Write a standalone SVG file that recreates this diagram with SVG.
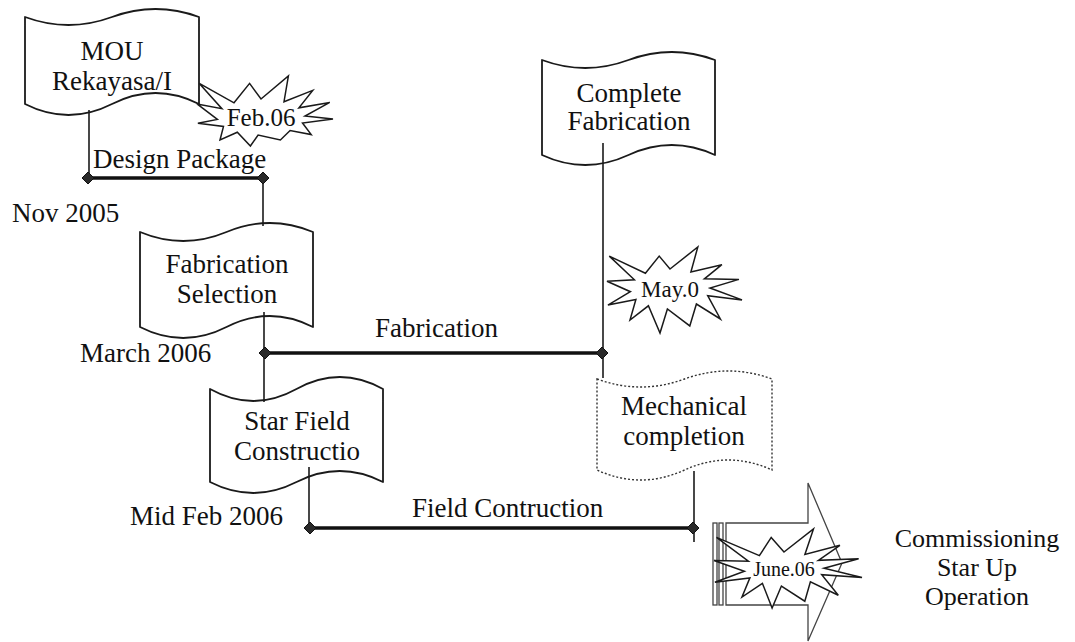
<svg xmlns="http://www.w3.org/2000/svg" width="1075" height="642" viewBox="0 0 1075 642">
<defs>
<style>
.flag{fill:#fff;stroke:#1a1a1a;stroke-width:1.8;stroke-linejoin:round}
.dotted{fill:#fff;stroke:#333;stroke-width:1.4;stroke-dasharray:2 2}
.seal{fill:#fff;stroke:#1a1a1a;stroke-width:1.5;stroke-linejoin:miter}
.arrow{fill:#fff;stroke:#444;stroke-width:1.3}
.t{font-family:"Liberation Serif","Times New Roman",serif;font-size:27px;fill:#111}
.c{text-anchor:middle}
.thin{fill:none;stroke:#1a1a1a;stroke-width:1.6}
.thick{fill:none;stroke:#111;stroke-width:3.5}
</style>
<path id="dia" d="M0,-6 L6,0 L0,6 L-6,0 Z" fill="#2a2a2a" stroke="#111" stroke-width="1"/>
</defs>
<rect width="1075" height="642" fill="#fff"/>

<g id="node-mou">
<path class="flag" d="M25,17 Q68.5,33 112,17 T199,17 L199,104 Q155.5,82 112,104 T25,104 Z"/>
<text class="t c" x="112" y="60">MOU</text>
<text class="t c" x="112" y="90">Rekayasa/I</text>
</g>

<g id="node-fabsel">
<path class="flag" d="M140,232 Q183.25,250 226.5,232 T313,232 L313,327 Q269.75,305 226.5,327 T140,327 Z"/>
<text class="t c" x="227" y="273">Fabrication</text>
<text class="t c" x="227" y="303">Selection</text>
</g>

<g id="node-starfield">
<path class="flag" d="M210,389 Q253.25,413 296.5,389 T383,389 L383,482 Q339.75,460 296.5,482 T210,482 Z"/>
<text class="t c" x="297" y="430">Star Field</text>
<text class="t c" x="297" y="460">Constructio</text>
</g>

<g id="node-complete">
<path class="flag" d="M542,60 Q585.25,76 628.5,60 T715,60 L715,155 Q671.75,135 628.5,155 T542,155 Z"/>
<text class="t c" x="629" y="102">Complete</text>
<text class="t c" x="629" y="130">Fabrication</text>
</g>

<g id="node-mechanical">
<path class="dotted" d="M597,379 Q640.75,395 684.5,379 T772,379 L772,470 Q728.25,450 684.5,470 T597,470 Z"/>
<text class="t c" x="684" y="415">Mechanical</text>
<text class="t c" x="684" y="445">completion</text>
</g>

<g id="connectors">
<path class="thin" d="M89,110 V178"/>
<path class="thick" d="M88,178 H263"/>
<path class="thin" d="M263,178 V226"/>
<path class="thin" d="M264,312 V402"/>
<path class="thick" d="M265,353 H602"/>
<path class="thin" d="M603,143 V378"/>
<path class="thin" d="M309,467 V528"/>
<path class="thick" d="M310,528 H693"/>
<path class="thin" d="M694,471 V542"/>
<use href="#dia" x="88" y="178"/>
<use href="#dia" x="263" y="178"/>
<use href="#dia" x="265" y="353"/>
<use href="#dia" x="602" y="353"/>
<use href="#dia" x="310" y="528"/>
<use href="#dia" x="693" y="528"/>
</g>

<g id="labels">
<text class="t" x="93" y="168">Design Package</text>
<text class="t" x="12" y="222">Nov 2005</text>
<text class="t" x="80" y="362">March 2006</text>
<text class="t" x="375" y="337">Fabrication</text>
<text class="t" x="130" y="525">Mid Feb 2006</text>
<text class="t" x="412" y="517">Field Contruction</text>
</g>

<g id="node-feb06">
<polygon class="seal" points="261,99 288.4,76 284,101.7 312.7,90.4 298.9,107.8 329.8,102.4 305,116.1 333,119.1 302.5,123 311.2,134.6 290.1,130.5 280.4,140 258.1,135 250.4,146 237.3,132.2 220,140 223.5,126.4 197.9,123.3 217.4,119.4 197,103.9 221.9,108.7 199.3,83.4 234,102.8 249.6,83.4"/>
<text class="t c" x="261" y="126" style="font-size:25px">Feb.06</text>
</g>

<g id="node-may0">
<polygon class="seal" points="670,269 697.8,247 690.9,272 721.9,264.7 704.4,278.8 738.9,279.4 710,288 742,299.9 707.7,295.7 720.4,319 696.4,304 689.8,325.9 667.4,309 660,333 648.4,305.8 630,320 635.9,299.4 607.9,305.1 630.4,291.7 607,281.3 634.4,279.8 609.3,256.1 645.4,273.2 659.2,256.1"/>
<text class="t c" x="670" y="297" style="font-size:23px">May.0</text>
</g>

<g id="node-commissioning">
<rect class="arrow" x="713" y="523" width="4" height="82"/>
<rect class="arrow" x="719" y="523" width="4" height="82"/>
<path class="arrow" d="M726,523 H808 V483 L842,563 L808,641 V605 H726 Z"/>
<polygon class="seal" points="784,552 813.5,529 804.9,554.5 839.9,545.3 818.4,560.3 858.6,558.8 824,568.2 862,577.6 821.7,574.7 838.3,595.2 810.4,581.8 804.8,601.2 781.4,586 772.1,608 762.4,583.3 742,597 749.9,577.9 714.9,582.3 744.4,571.3 714,560.5 748.4,561.2 716.5,537.4 759.4,555.6 771.2,537.4"/>
<text class="t c" x="784" y="576" style="font-size:20px">June.06</text>
<text class="t c" x="977" y="547" style="font-size:26px">Commissioning</text>
<text class="t c" x="977" y="576" style="font-size:26px">Star Up</text>
<text class="t c" x="977" y="605" style="font-size:26px">Operation</text>
</g>
</svg>
